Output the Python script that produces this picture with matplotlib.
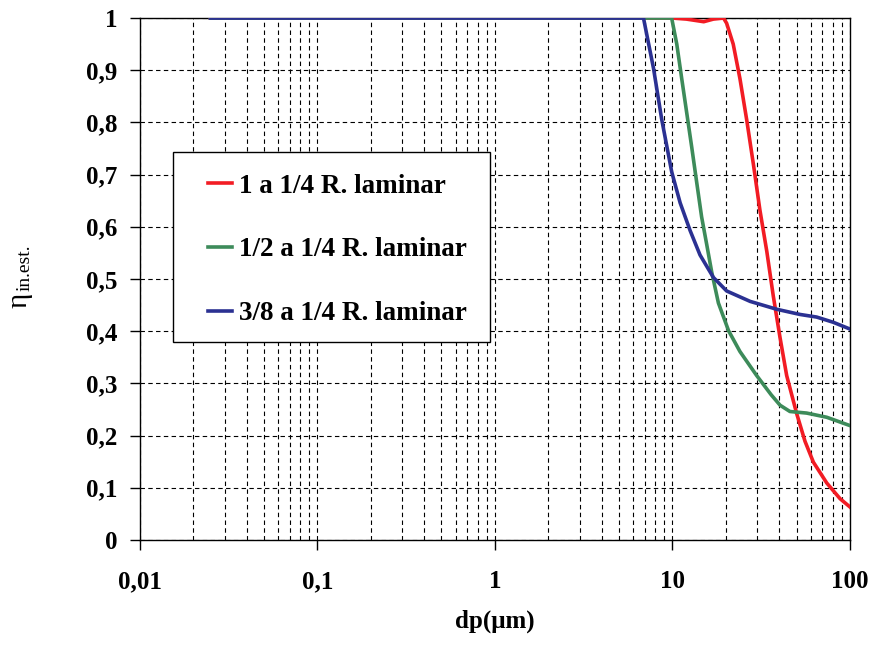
import numpy as np
import matplotlib
matplotlib.use('Agg')
import matplotlib.pyplot as plt
from matplotlib.patches import Rectangle
from matplotlib.ticker import FixedLocator, LogLocator, NullFormatter

plt.rcParams['font.family'] = ['Liberation Serif', 'DejaVu Serif']

# data
x_red = [0.025, 1, 10, 12, 15, 17, 19.4, 20.2, 22.0, 24.0, 26.2, 28.6, 31.1, 34.0, 37.0,
         40.4, 44.0, 50.1, 55.8, 62.2, 74.0, 87.9, 100]
y_red = [1, 1, 1, 0.998, 0.993, 0.998, 1.0, 0.99, 0.95, 0.884, 0.805, 0.719, 0.632, 0.553, 0.467,
         0.387, 0.315, 0.242, 0.189, 0.149, 0.109, 0.079, 0.063]

x_green = [0.025, 1, 9.9, 10.58, 11.28, 12.04, 12.85, 13.7, 14.6, 15.6, 16.65, 18.15, 20.7,
           24.0, 29.8, 36.0, 40.4, 45.9, 57.0, 73.9, 100]
y_green = [1, 1, 1, 0.95, 0.884, 0.818, 0.752, 0.685, 0.619, 0.566, 0.513, 0.454, 0.401,
           0.361, 0.315, 0.278, 0.258, 0.246, 0.243, 0.235, 0.219]

x_blue = [0.025, 1, 6.87, 7.82, 8.71, 9.91, 11.05, 12.57, 14.3, 17.0, 20.2, 27.4, 38.6,
          52.3, 64.9, 80.5, 100]
y_blue = [1, 1, 1, 0.904, 0.805, 0.705, 0.646, 0.593, 0.546, 0.503, 0.477, 0.457, 0.442,
          0.432, 0.427, 0.417, 0.404]

labels = ['1 a 1/4 R. laminar', '1/2 a 1/4 R. laminar', '3/8 a 1/4 R. laminar']
colors = ['#f21c24', '#3d8b5a', '#2b3192']

x_ticks = [0.01, 0.1, 1, 10, 100]
x_ticklabels = ['0,01', '0,1', '1', '10', '100']
y_ticks = np.round(np.arange(0, 1.01, 0.1), 1)
y_ticklabels = ['0' if v == 0 else '1' if v == 1 else ('%.1f' % v).replace('.', ',') for v in y_ticks]

fig = plt.figure(figsize=(8.74, 6.45), dpi=100)
ax = fig.add_axes([0.160, 0.163, 0.8125, 0.809])

for xs, ys, c, lab in zip([x_red, x_green, x_blue], [y_red, y_green, y_blue], colors, labels):
    ax.plot(xs, ys, color=c, lw=2.6, label=lab, zorder=3)

ax.set_xscale('log')
ax.set_xlim(0.01, 100)
ax.set_ylim(0, 1)
ax.xaxis.set_major_locator(FixedLocator(x_ticks))
ax.xaxis.set_minor_locator(LogLocator(base=10, subs=np.arange(2, 10)))
ax.xaxis.set_minor_formatter(NullFormatter())
ax.set_xticklabels(x_ticklabels)
ax.set_yticks(y_ticks)
ax.set_yticklabels(y_ticklabels)

ax.grid(True, which='major', axis='both', color='black', ls=(0, (4, 3)), lw=0.8)
ax.grid(True, which='minor', axis='x', color='black', ls=(0, (4, 3)), lw=0.8)
ax.tick_params(which='major', direction='out', length=7, width=1, labelsize=18)
ax.tick_params(axis='x', which='major', pad=15)
ax.tick_params(axis='y', which='major', pad=9)
ax.tick_params(which='minor', length=0)
for lbl in ax.get_xticklabels() + ax.get_yticklabels():
    lbl.set_fontweight('bold')
for s in ax.spines.values():
    s.set_linewidth(1.0)

ax.set_xlabel('dp(\u03bcm)', fontsize=18, fontweight='bold')
ax.xaxis.set_label_coords(0.5, -0.134)

# y label: eta with subscript, written as two rotated texts
fig.text(20 / 874, 1 - 300 / 645, '\u03b7', fontsize=21, rotation=90, ha='center', va='center')
fig.text(25 / 874, 1 - 268 / 645, 'in.est.', fontsize=14, rotation=90, ha='center', va='center')

# legend box drawn separately so its padding can differ from the entry spacing
ax.add_patch(Rectangle((0.0465, 0.379), 0.4465, 0.364, transform=ax.transAxes,
                       facecolor='white', edgecolor='black', lw=1.0, zorder=4))
leg = ax.legend(loc='upper left', bbox_to_anchor=(0.0958, 0.702), borderaxespad=0,
                frameon=False, handlelength=0.9, handletextpad=0.25, labelspacing=1.43,
                borderpad=0, prop={'weight': 'bold', 'size': 19.5})
leg.set_zorder(5)

fig.savefig('out.png', dpi=100)
